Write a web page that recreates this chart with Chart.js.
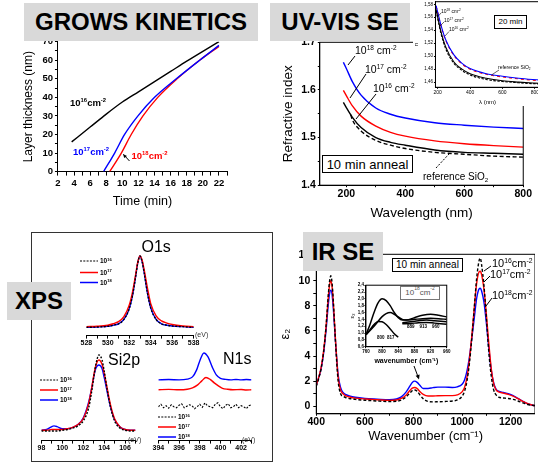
<!DOCTYPE html>
<html>
<head>
<meta charset="utf-8">
<script src="https://cdn.jsdelivr.net/npm/chart.js@4.4.1/dist/chart.umd.min.js"></script>
<style>
  body { margin: 0; background: #fff; }
  #stage { position: relative; width: 538px; height: 466px; overflow: hidden; background: #fff;
           font-family: "Liberation Sans", Arial, sans-serif; color: #000; }
  .wrap { position: absolute; }
  .title { position: absolute; background: #d9d9d9; font-weight: bold; font-size: 24px; z-index: 10;
           display: flex; align-items: center; justify-content: center; }
  .lbl { position: absolute; white-space: nowrap; line-height: 1; transform: translateY(-50%); z-index: 8; }
  .box { position: absolute; box-sizing: border-box; border: 1px solid #000; background: #fff; z-index: 8;
         display: flex; align-items: center; justify-content: center; white-space: nowrap; line-height: 1; }
  sup { font-size: 62%; vertical-align: 0; position: relative; top: -0.6em; }
  sub { font-size: 62%; vertical-align: 0; position: relative; top: 0.3em; }
  #xpsbox { position: absolute; left: 30.5px; top: 232px; width: 242px; height: 230px; box-sizing: border-box;
            border: 1.5px solid #333; }
</style>
</head>
<body>
<div id="stage">
  <div id="xpsbox"></div>
</div>
<script>
// ---- Grows kinetics: layer thickness (nm) vs time (min)
const growsTime16 = [3.7, 6, 8, 10, 12, 14, 16, 18, 20, 22];
const growsThick16 = [16, 24, 31, 37.5, 43, 48.5, 54, 59.5, 64.8, 70];
const growsTime17 = [7.67, 9.04, 10.28, 11.94, 14, 16.7, 19.6, 22];
const growsThick17 = [0, 10, 20, 30, 40, 50, 60, 68];
const growsTime18 = [8.42, 9.87, 11.1, 12.56, 14.4, 16.8, 19.6, 22];
const growsThick18 = [0, 10, 20, 30, 40, 50, 60, 67.5];
const growsXTicks = [2, 4, 6, 8, 10, 12, 14, 16, 18, 20, 22];
const growsXMinor = [3, 5, 7, 9, 11, 13, 15, 17, 19, 21, 23];
const growsYTicks = [0, 10, 20, 30, 40, 50, 60, 70];
const growsYMinor = [5, 15, 25, 35, 45, 55, 65];

// ---- UV-VIS SE: refractive index vs wavelength (10 min anneal)
const uvWave = [190, 200, 220, 250, 300, 350, 400, 500, 600, 700, 800];
const uvN18 = [1.658, 1.645, 1.618, 1.589, 1.562, 1.549, 1.541, 1.531, 1.526, 1.522, 1.519];
const uvN17 = [1.599, 1.588, 1.567, 1.545, 1.524, 1.511, 1.503, 1.493, 1.487, 1.483, 1.480];
const uvN16 = [1.574, 1.563, 1.543, 1.521, 1.500, 1.490, 1.484, 1.474, 1.469, 1.467, 1.465];
const uvWaveRef = [215, 220, 250, 300, 350, 400, 500, 600, 700, 800];
const uvNRef = [1.548, 1.538, 1.514, 1.494, 1.484, 1.477, 1.469, 1.465, 1.461, 1.459];
const uvXTicks = [200, 400, 600, 800];
const uvXMinor = [300, 500, 700];
const uvYTicks = [1.4, 1.5, 1.6, 1.7];
const uvYMinor = [1.45, 1.55, 1.65];

// inset: 20 min anneal
const uvInsetWave = [190, 200, 220, 250, 300, 350, 400, 500, 600, 700, 830];
const uvInsetN18 = [1.578, 1.568, 1.548, 1.525, 1.502, 1.489, 1.481, 1.473, 1.469, 1.466, 1.463];
const uvInsetN17 = [1.577, 1.567, 1.547, 1.524, 1.501, 1.488, 1.480, 1.472, 1.468, 1.465, 1.462];
const uvInsetN16 = [1.572, 1.560, 1.538, 1.514, 1.491, 1.480, 1.473, 1.466, 1.462, 1.460, 1.458];
const uvInsetRef = [1.570, 1.558, 1.535, 1.511, 1.489, 1.478, 1.471, 1.464, 1.461, 1.459, 1.457];
const uvInsetXTicks = [200, 400, 600, 800];
const uvInsetYTicks = [1.46, 1.48, 1.50, 1.52, 1.54, 1.56, 1.58];

// ---- IR SE: eps2 vs wavenumber
const irWave = [400, 410, 420, 430, 440, 450, 455, 460, 465, 470, 480, 490, 500, 510, 520, 540, 560, 600, 650, 700,
  730, 750, 770, 785, 795, 805, 815, 825, 840, 860, 880, 900, 930, 960, 980, 1000, 1010, 1020, 1030, 1040,
  1050, 1060, 1070, 1075, 1080, 1090, 1100, 1110, 1120, 1130, 1140, 1150, 1170, 1190, 1210, 1230, 1250, 1270, 1290, 1300];
const irEps16 = [1.6, 2.2, 3.0, 4.3, 6.3, 9.0, 10.0, 10.4, 9.8, 8.4, 4.8, 2.0, 1.0, 0.8, 0.7, 0.6, 0.55, 0.48, 0.42, 0.38,
  0.4, 0.5, 0.75, 1.05, 1.25, 1.3, 1.2, 0.95, 0.6, 0.38, 0.35, 0.36, 0.38, 0.42, 0.5, 0.8, 1.2, 2.0, 3.4, 5.4,
  7.8, 10.2, 11.6, 11.8, 11.3, 9.6, 7.0, 4.3, 2.4, 1.3, 0.9, 0.72, 0.66, 0.62, 0.55, 0.42, 0.27, 0.14, 0.07, 0.05];
const irEps17 = [1.7, 2.3, 3.1, 4.4, 6.3, 8.8, 9.7, 10.0, 9.5, 8.3, 5.0, 2.3, 1.3, 1.0, 0.85, 0.72, 0.65, 0.58, 0.52, 0.47,
  0.5, 0.62, 0.9, 1.25, 1.45, 1.5, 1.42, 1.2, 0.95, 0.82, 0.82, 0.84, 0.85, 0.85, 0.9, 1.15, 1.5, 2.3, 3.7, 5.6,
  7.8, 9.8, 10.7, 10.75, 10.5, 9.3, 7.3, 5.0, 3.0, 1.8, 1.3, 1.15, 1.05, 0.95, 0.8, 0.6, 0.38, 0.2, 0.08, 0.05];
const irEps18 = [1.7, 2.3, 3.0, 4.2, 6.0, 8.2, 9.0, 9.25, 8.9, 7.8, 4.9, 2.5, 1.5, 1.1, 0.95, 0.8, 0.72, 0.63, 0.57, 0.52,
  0.58, 0.75, 1.15, 1.6, 1.9, 2.0, 1.9, 1.7, 1.42, 1.42, 1.48, 1.52, 1.52, 1.5, 1.55, 1.75, 2.1, 2.8, 3.9, 5.4,
  7.0, 8.6, 9.35, 9.4, 9.2, 8.3, 6.6, 4.6, 2.9, 1.85, 1.35, 1.2, 1.1, 1.0, 0.85, 0.62, 0.4, 0.2, 0.08, 0.05];
const irXTicks = [400, 600, 800, 1000, 1200];
const irXMinor = [500, 700, 900, 1100, 1300];
const irYTicks = [0, 2, 4, 6, 8, 10, 12];
const irYMinor = [1, 3, 5, 7, 9, 11];

// inset: 10^18 cm^-2, 800-960 cm^-1 region
const irInsetWaveA = [760, 770, 780, 790, 800, 810, 820, 830, 840, 850, 860, 880, 900, 920, 940, 960];
const irInsetEpsA = [0.95, 1.25, 1.6, 1.88, 2.0, 1.95, 1.8, 1.6, 1.45, 1.38, 1.38, 1.45, 1.52, 1.55, 1.52, 1.47];
const irInsetWaveB = [760, 780, 800, 810, 820, 830, 840, 850, 860, 880, 900, 920, 940, 960];
const irInsetEpsB = [0.95, 1.2, 1.48, 1.57, 1.6, 1.55, 1.47, 1.4, 1.38, 1.4, 1.42, 1.43, 1.42, 1.4];
const irInsetWaveC = [760, 770, 780, 790, 800, 810, 820, 830, 840];
const irInsetEpsC = [0.95, 1.1, 1.25, 1.34, 1.33, 1.25, 1.12, 0.98, 0.88];
const irInsetWaveD = [850, 870, 890, 910, 930, 960];
const irInsetEpsD = [1.3, 1.33, 1.36, 1.38, 1.36, 1.33];
const irInsetWaveE = [850, 870, 890, 910, 930, 960];
const irInsetEpsE = [1.27, 1.28, 1.3, 1.31, 1.29, 1.26];
const irInsetXTicks = [760, 800, 840, 880, 920, 960];
const irInsetYTicks = [0.6, 0.8, 1.0, 1.2, 1.4, 1.6, 1.8, 2.0, 2.2, 2.4];

// ---- XPS (normalised intensity)
const o1sEnergy = [528, 529, 530, 530.5, 531, 531.5, 532, 532.3, 532.6, 532.8, 533, 533.2, 533.4, 533.7, 534, 534.5, 535, 535.5, 536, 537, 538];
const o1s16 = [0.01, 0.015, 0.025, 0.04, 0.06, 0.12, 0.27, 0.45, 0.72, 0.91, 1.0, 0.92, 0.76, 0.48, 0.28, 0.12, 0.06, 0.04, 0.03, 0.02, 0.01];
const o1s17 = [0.02, 0.025, 0.04, 0.06, 0.09, 0.16, 0.32, 0.5, 0.75, 0.92, 1.0, 0.94, 0.8, 0.55, 0.34, 0.17, 0.1, 0.07, 0.05, 0.03, 0.02];
const o1s18 = [0.01, 0.015, 0.025, 0.04, 0.06, 0.12, 0.27, 0.45, 0.72, 0.91, 1.0, 0.92, 0.76, 0.48, 0.28, 0.12, 0.06, 0.04, 0.03, 0.02, 0.01];
const o1sTicks = [528, 530, 532, 534, 536, 538];
const o1sMinor = [529, 531, 533, 535, 537];

const si2pEnergy = [98, 98.5, 99, 99.2, 99.5, 100, 100.5, 101, 101.5, 102, 102.5, 102.8, 103, 103.2, 103.5, 103.8, 104, 104.3, 104.6, 105, 105.5, 106, 106.5, 107];
const si2p16 = [0.01, 0.01, 0.01, 0.01, 0.01, 0.02, 0.03, 0.05, 0.08, 0.15, 0.32, 0.55, 0.75, 0.93, 1.07, 1.0, 0.85, 0.58, 0.35, 0.15, 0.05, 0.02, 0.01, 0.01];
const si2p17 = [0.02, 0.02, 0.03, 0.03, 0.03, 0.03, 0.04, 0.06, 0.1, 0.18, 0.38, 0.6, 0.78, 0.92, 1.0, 0.94, 0.82, 0.6, 0.38, 0.18, 0.07, 0.03, 0.02, 0.02];
const si2p18 = [0.02, 0.03, 0.07, 0.08, 0.07, 0.04, 0.04, 0.06, 0.1, 0.19, 0.4, 0.6, 0.76, 0.88, 0.93, 0.88, 0.76, 0.55, 0.35, 0.17, 0.07, 0.03, 0.02, 0.02];
const si2pTicks = [98, 100, 102, 104, 106];
const si2pMinor = [99, 101, 103, 105, 107];

const n1sEnergy16 = [394, 394.25, 394.5, 394.75, 395, 395.25, 395.5, 395.75, 396, 396.25, 396.5, 396.75, 397, 397.25, 397.5, 397.75,
  398, 398.25, 398.5, 398.75, 399, 399.25, 399.5, 399.75, 400, 400.25, 400.5, 400.75, 401, 401.25, 401.5, 401.75, 402, 402.25, 402.5, 402.75, 403];
const n1s16 = [34, 36.5, 33, 35, 32.5, 36, 34, 33, 35.5, 37, 33, 34.5, 36, 35, 32, 34, 36.5, 33.5, 38, 35, 34, 33, 36.5, 38, 34, 32,
  35.5, 37, 33, 34, 36.5, 33, 35, 34, 32, 35, 36];
const n1sEnergy17 = [394, 395, 396, 396.8, 397.3, 397.8, 398.2, 398.6, 399, 399.4, 399.8, 400.2, 400.7, 401.2, 402, 402.5, 403];
const n1s17 = [51, 51.4, 51, 51.6, 53, 56, 60, 63.3, 61.5, 58, 55, 52.5, 51.5, 51, 51.3, 50.8, 51];
const n1sEnergy18 = [394, 395, 396, 396.8, 397.3, 397.7, 398, 398.4, 398.8, 399.2, 399.6, 400, 400.5, 401, 401.5, 402, 402.5, 403];
const n1s18 = [61, 61.3, 61, 61.8, 64, 71, 80, 88, 84, 74, 66, 62.5, 61.5, 61, 61.4, 61, 61.3, 61];
const n1sTicks = [394, 396, 398, 400, 402];
const n1sMinor = [395, 397, 399, 401, 403];

const RED = '#ff0000', BLUE = '#0000ff', BLACK = '#000000';
const FONT = '"Liberation Sans", Arial, sans-serif';
Chart.defaults.font.family = FONT;
Chart.defaults.color = '#000';

// draws a closed box round the plot area
const framePlugin = {
    id: 'frame',
    defaults: { on: false, width: 1 },
    afterDatasetsDraw(chart, args, opts) {
        if (!opts.on) return;
        const a = chart.chartArea, ctx = chart.ctx;
        ctx.save();
        ctx.strokeStyle = '#000';
        ctx.lineWidth = opts.width;
        ctx.strokeRect(a.left, a.top, a.right - a.left, a.bottom - a.top);
        ctx.restore();
    }
};
Chart.register(framePlugin);

function pts(xs, ys) {
    return xs.map((x, i) => ({ x: x, y: ys[i] }));
}

function line(xs, ys, color, extra) {
    return Object.assign({
        data: pts(xs, ys), borderColor: color, borderWidth: 1.4, pointRadius: 0,
        cubicInterpolationMode: 'monotone', fill: false
    }, extra || {});
}

function axis(o) {
    const major = o.major;
    const all = major.concat(o.minor || []).sort((a, b) => a - b);
    return {
        type: 'linear', min: o.min, max: o.max, display: o.show !== false,
        afterBuildTicks: a => { a.ticks = all.map(v => ({ value: v })); },
        ticks: {
            autoSkip: false, maxRotation: 0, padding: o.pad === undefined ? 2 : o.pad,
            font: o.font, color: '#000',
            callback: v => major.some(m => Math.abs(m - v) < 1e-6) ? (o.fmt ? o.fmt(v) : String(v)) : ''
        },
        grid: { drawOnChartArea: false, drawTicks: true, tickLength: o.tick === undefined ? 3 : o.tick, color: '#000' },
        border: { display: true, color: '#000', width: o.bw || 1 },
        title: o.title
            ? { display: true, text: o.title, font: o.tfont, color: '#000', padding: o.tpad || { top: 0, bottom: 0 } }
            : { display: false }
    };
}

function cfg(datasets, x, y, frame) {
    return {
        type: 'line',
        data: { datasets: datasets },
        options: {
            responsive: false, animation: false, devicePixelRatio: 1, events: [],
            layout: { padding: 0 },
            plugins: { legend: { display: false }, tooltip: { enabled: false }, frame: { on: !!frame } },
            scales: { x: x, y: y }
        }
    };
}

const stage = document.getElementById('stage');

function build(make, w, h, bg) {
    const wrap = document.createElement('div');
    wrap.className = 'wrap';
    if (bg) wrap.style.background = bg;
    const cv = document.createElement('canvas');
    cv.width = w; cv.height = h;
    cv.style.width = w + 'px'; cv.style.height = h + 'px';
    wrap.appendChild(cv);
    stage.appendChild(wrap);
    return new Chart(cv, make());
}

// size the canvas so that the plot area lands on the given page box
function place(box, make, bg) {
    let w = Math.round(box.r - box.l) + 60, h = Math.round(box.b - box.t) + 50;
    let chart = build(make, w, h, bg);
    let ca = chart.chartArea;
    w = Math.round(w + (box.r - box.l) - (ca.right - ca.left));
    h = Math.round(h + (box.b - box.t) - (ca.bottom - ca.top));
    const old = chart.canvas.parentNode;
    chart.destroy();
    old.remove();
    chart = build(make, w, h, bg);
    ca = chart.chartArea;
    const wrap = chart.canvas.parentNode;
    wrap.style.left = (box.l - ca.left) + 'px';
    wrap.style.top = (box.t - ca.top) + 'px';
    return chart;
}

const tickBold = s => ({ size: s, weight: 'bold', family: FONT });
const comma = d => v => v.toFixed(d).replace('.', ',');

// GROWS KINETICS
place({ l: 58.3, t: 41.7, r: 227.4, b: 171.7 }, () => cfg([
    line(growsTime16, growsThick16, BLACK),
    line(growsTime17, growsThick17, BLUE),
    line(growsTime18, growsThick18, RED)
], axis({ min: 2, max: 23, major: growsXTicks, minor: growsXMinor, font: tickBold(9.5), tick: 4, pad: 2,
          title: 'Time (min)', tfont: { size: 12.5, family: FONT }, tpad: { top: 3, bottom: 0 } }),
   axis({ min: 0, max: 70, major: growsYTicks, minor: growsYMinor, font: tickBold(9.5), tick: 3, pad: 2,
          title: 'Layer thickness (nm)', tfont: { size: 12, family: FONT }, tpad: { top: 0, bottom: 5 } })));

// UV-VIS main
place({ l: 319.3, t: 42.3, r: 523, b: 185.7 }, () => cfg([
    line(uvWaveRef, uvNRef, BLACK, { borderDash: [4, 2.5] }),
    line(uvWave, uvN16, BLACK),
    line(uvWave, uvN17, RED),
    line(uvWave, uvN18, BLUE)
], axis({ min: 110, max: 800, major: uvXTicks, minor: uvXMinor, font: tickBold(10.5), tick: 2, pad: 1,
          title: 'Wavelength (nm)', tfont: { size: 13.5, family: FONT }, tpad: { top: 3, bottom: 0 } }),
   axis({ min: 1.4, max: 1.7, major: uvYTicks, minor: uvYMinor, font: tickBold(10.5), tick: 2, pad: 2,
          fmt: v => v.toFixed(1),
          title: 'Refractive index', tfont: { size: 13.5, family: FONT }, tpad: { top: 0, bottom: 3 } }), true));

// IR SE main
place({ l: 316.7, t: 254, r: 535, b: 413.3 }, () => cfg([
    line(irWave, irEps16, BLACK, { borderDash: [3, 2] }),
    line(irWave, irEps17, RED),
    line(irWave, irEps18, BLUE)
], axis({ min: 400, max: 1300, major: irXTicks, minor: irXMinor, font: tickBold(10.5), tick: 2, pad: 0,
          title: 'Wavenumber (cm\u207B\u00B9)', tfont: { size: 13, family: FONT }, tpad: { top: 0, bottom: 0 } }),
   axis({ min: -0.6, max: 12.1, major: irYTicks, minor: irYMinor, font: tickBold(10.5), tick: 3, pad: 3,
          title: '\u03B5\u2082', tfont: { size: 13, family: FONT }, tpad: { top: 0, bottom: 2 } }), true));

// XPS O1s
place({ l: 86, t: 250, r: 193, b: 336 }, () => cfg([
    line(o1sEnergy, o1s16, BLACK, { borderDash: [2, 1.5] }),
    line(o1sEnergy, o1s17, RED),
    line(o1sEnergy, o1s18, BLUE)
], axis({ min: 528, max: 538, major: o1sTicks, minor: o1sMinor, font: tickBold(7), tick: 3, pad: 0.5 }),
   axis({ min: -0.104, max: 1.083, major: [], show: false })));

// XPS Si2p
place({ l: 41, t: 350, r: 135.5, b: 441 }, () => cfg([
    line(si2pEnergy, si2p16, BLACK, { borderDash: [2, 1.5] }),
    line(si2pEnergy, si2p17, RED),
    line(si2pEnergy, si2p18, BLUE)
], axis({ min: 98, max: 107, major: si2pTicks, minor: si2pMinor, font: tickBold(7), tick: 3, pad: 0.5 }),
   axis({ min: -0.125, max: 1.14, major: [], show: false })));

// XPS N1s
place({ l: 158, t: 345, r: 251.4, b: 441 }, () => cfg([
    line(n1sEnergy16, n1s16, BLACK, { borderDash: [2, 1.5], cubicInterpolationMode: 'default', tension: 0, borderWidth: 1.1 }),
    line(n1sEnergy17, n1s17, RED),
    line(n1sEnergy18, n1s18, BLUE)
], axis({ min: 394, max: 403, major: n1sTicks, minor: n1sMinor, font: tickBold(7), tick: 3, pad: 0.5 }),
   axis({ min: 0, max: 96, major: [], show: false })));

// UV-VIS inset (20 min)
place({ l: 435, t: 1.5, r: 540, b: 87.3 }, () => cfg([
    line(uvInsetWave, uvInsetRef, BLACK, { borderDash: [2.5, 1.5], borderWidth: 1.1 }),
    line(uvInsetWave, uvInsetN16, BLACK, { borderWidth: 1.1 }),
    line(uvInsetWave, uvInsetN18, BLUE, { borderWidth: 1.1 }),
    line(uvInsetWave, uvInsetN17, RED, { borderWidth: 1.1, borderDash: [3, 3] })
], axis({ min: 186, max: 830, major: uvInsetXTicks, font: { size: 5, family: FONT }, tick: 1.5, pad: 1,
          title: '\u03BB (nm)', tfont: { size: 6, family: FONT }, tpad: { top: 2, bottom: 0 } }),
   axis({ min: 1.452, max: 1.584, major: uvInsetYTicks, font: { size: 4.5, family: FONT }, tick: 1.5, pad: 1,
          fmt: comma(2), title: 'n', tfont: { size: 6, family: FONT }, tpad: { top: 0, bottom: 3 } }), true), '#fff');

// IR inset (10^18)
place({ l: 366, t: 285, r: 447, b: 346 }, () => cfg([
    line(irInsetWaveA, irInsetEpsA, BLACK, { borderWidth: 1.5 }),
    line(irInsetWaveB, irInsetEpsB, BLACK, { borderWidth: 1.5 }),
    line(irInsetWaveC, irInsetEpsC, BLACK, { borderWidth: 1.5 }),
    line(irInsetWaveD, irInsetEpsD, BLACK, { borderWidth: 1.5 }),
    line(irInsetWaveE, irInsetEpsE, BLACK, { borderWidth: 1.5 })
], axis({ min: 760, max: 960, major: irInsetXTicks, font: tickBold(4.5), tick: 1.5, pad: 0.5,
          title: 'wavenumber (cm\u207B\u00B9)', tfont: { size: 7, weight: 'bold', family: FONT }, tpad: { top: 2, bottom: 0 } }),
   axis({ min: 0.6, max: 2.4, major: irInsetYTicks, font: tickBold(4.5), tick: 1.5, pad: 0.5,
          fmt: comma(1), title: '\u03B5\u2082', tfont: { size: 6, family: FONT }, tpad: { top: 0, bottom: 1 } }), true), '#fff');

// ---- text and annotations
function label(html, x, y, css) {
    const d = document.createElement('div');
    d.className = 'lbl';
    d.innerHTML = html;
    d.style.left = x + 'px';
    d.style.top = y + 'px';
    if (css) d.style.cssText += css;
    stage.appendChild(d);
}
function boxed(html, l, t, w, h, css) {
    const d = document.createElement('div');
    d.className = 'box';
    d.innerHTML = html;
    d.style.left = l + 'px'; d.style.top = t + 'px';
    d.style.width = w + 'px'; d.style.height = h + 'px';
    if (css) d.style.cssText += css;
    stage.appendChild(d);
}
function title(text, l, t, w, h) {
    const d = document.createElement('div');
    d.className = 'title';
    d.textContent = text;
    d.style.left = l + 'px'; d.style.top = t + 'px';
    d.style.width = w + 'px'; d.style.height = h + 'px';
    stage.appendChild(d);
}

title('GROWS KINETICS', 24, 3, 234, 38);
title('UV-VIS SE', 270, 3, 140, 38);
title('XPS', 7, 282, 64, 38);
title('IR SE', 303, 232, 80, 39);

const dose = (e, sp) => '10<sup>' + e + '</sup>' + (sp ? ' ' : '') + 'cm<sup>-2</sup>';

// grows labels
label(dose(16), 70, 103, 'font-size:9.5px;font-weight:bold;');
label(dose(17), 73, 152, 'font-size:9.5px;font-weight:bold;color:#0000ff;');
label(dose(18), 131.5, 155.5, 'font-size:9.5px;font-weight:bold;color:#ff0000;');

// UV-VIS labels
label(dose(18, true), 355, 50, 'font-size:10.5px;');
label(dose(17, true), 365, 68.5, 'font-size:10.5px;');
label(dose(16, true), 373, 88, 'font-size:10.5px;');
boxed('10 min anneal', 321.7, 155, 91.6, 18.3, 'font-size:13px;');
label('reference SiO<sub>2</sub>', 423, 177, 'font-size:10px;');
boxed('20 min', 494, 15, 33, 13.5, 'font-size:8px;');
label(dose(18, true), 441, 11.5, 'font-size:5px;');
label(dose(17, true), 444, 20.5, 'font-size:5px;');
label(dose(16, true), 449, 30, 'font-size:5px;');
label('reference SiO<sub>2</sub>', 498, 68, 'font-size:5px;');

// IR labels
label(dose(16), 492, 263, 'font-size:11px;');
label(dose(17), 490, 274, 'font-size:11px;');
label(dose(18), 492, 295, 'font-size:11px;');
boxed('10 min anneal', 391.7, 258.3, 71.6, 13.4, 'font-size:10px;');
boxed('10<sup>18</sup> cm<sup>-2</sup>', 400, 286, 40, 13.5, 'font-size:8px;color:#555;border-color:#777;');
label('800&nbsp;&nbsp;817', 377, 338, 'font-size:4.5px;font-weight:bold;');
label('889&nbsp;&nbsp;&nbsp;&nbsp;913&nbsp;&nbsp;&nbsp;&nbsp;960', 407, 326.5, 'font-size:4.5px;font-weight:bold;');

// XPS labels
label('O1s', 141.5, 247, 'font-size:16px;');
label('Si2p', 108, 360, 'font-size:16px;');
label('N1s', 223, 359, 'font-size:16px;');
label('(eV)', 195, 333.5, 'font-size:7px;color:#333;');
label('(eV)', 128, 439, 'font-size:7px;color:#333;');
label('(eV)', 242, 439, 'font-size:7px;color:#333;');
const legendRows = [
    { x: 80, ys: [261, 272.5, 282.5] },
    { x: 40, ys: [380, 390, 400] },
    { x: 158, ys: [417, 427, 437] }
];
legendRows.forEach(r => {
    ['16', '17', '18'].forEach((e, i) => {
        label('10<sup>' + e + '</sup>', r.x + 20, r.ys[i], 'font-size:6.5px;font-weight:bold;');
    });
});

// leader lines, arrows and legend samples
let svg = '<svg width="538" height="466" style="position:absolute;left:0;top:0;z-index:9">' +
    '<g stroke="#000" stroke-width="1" fill="none">' +
    '<line x1="129.5" y1="161" x2="123.5" y2="154.5"/>' +
    '<line x1="355" y1="56" x2="348" y2="65"/>' +
    '<line x1="366" y1="74" x2="350" y2="98"/>' +
    '<line x1="376" y1="94" x2="356" y2="119"/>' +
    '<line x1="436" y1="168" x2="449" y2="154" stroke-dasharray="2,1.5"/>' +
    '<line x1="441" y1="13" x2="437.5" y2="17" stroke-width="0.6"/>' +
    '<line x1="444" y1="22" x2="440" y2="26" stroke-width="0.6"/>' +
    '<line x1="449" y1="31.5" x2="445" y2="36" stroke-width="0.6"/>' +
    '<line x1="499" y1="70" x2="491.5" y2="75" stroke-width="0.6"/>' +
    '<line x1="491" y1="266" x2="484" y2="271"/>' +
    '<line x1="490" y1="276" x2="484" y2="282"/>' +
    '<line x1="492" y1="298" x2="486" y2="306"/>' +
    '<line x1="414" y1="366" x2="418.5" y2="378"/>' +
    '</g>' +
    '<polygon points="123,154 124.2,158 127,156" fill="#000"/>' +
    '<polygon points="419,379.5 415.6,375.8 419.6,374.6" fill="#000"/>';
legendRows.forEach(r => {
    svg += '<line x1="' + r.x + '" y1="' + r.ys[0] + '" x2="' + (r.x + 18) + '" y2="' + r.ys[0] + '" stroke="#000" stroke-width="1.2" stroke-dasharray="2,1.3"/>' +
        '<line x1="' + r.x + '" y1="' + r.ys[1] + '" x2="' + (r.x + 18) + '" y2="' + r.ys[1] + '" stroke="' + RED + '" stroke-width="1.5"/>' +
        '<line x1="' + r.x + '" y1="' + r.ys[2] + '" x2="' + (r.x + 18) + '" y2="' + r.ys[2] + '" stroke="' + BLUE + '" stroke-width="1.5"/>';
});
svg += '</svg>';
stage.insertAdjacentHTML('beforeend', svg);
</script>
</body>
</html>
